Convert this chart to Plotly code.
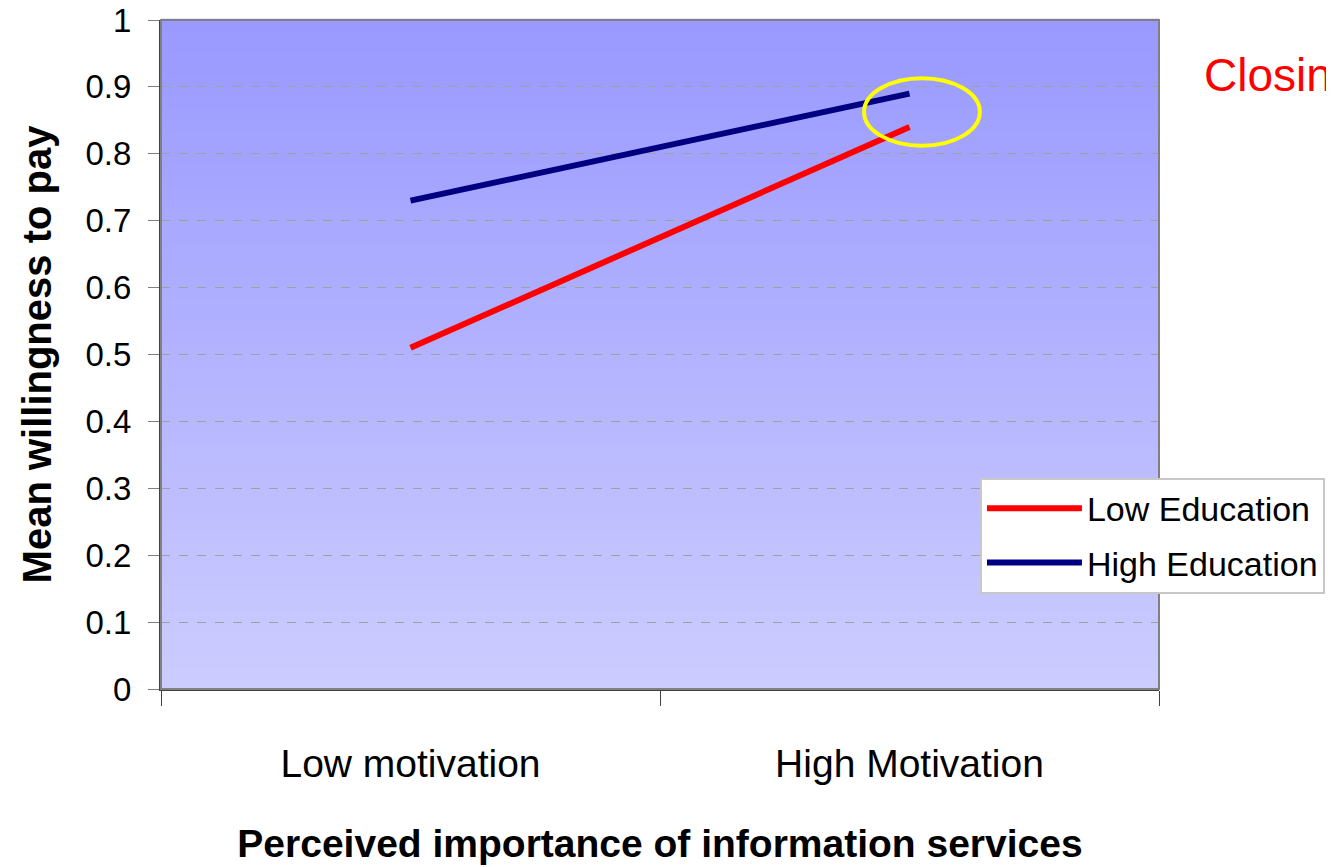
import plotly.graph_objects as go

categories = ["Low motivation", "High Motivation"]
low_education = [0.51, 0.84]
high_education = [0.73, 0.89]
y_ticks = [0, 0.1, 0.2, 0.3, 0.4, 0.5, 0.6, 0.7, 0.8, 0.9, 1]
y_tick_text = ["0", "0.1", "0.2", "0.3", "0.4", "0.5", "0.6", "0.7", "0.8", "0.9", "1"]
series_names = ["Low Education", "High Education"]

ARIAL = "Liberation Sans, Arial, sans-serif"

fig = go.Figure()
fig.add_trace(go.Scatter(x=categories, y=low_education, mode="lines", name=series_names[0],
                         line=dict(color="#FF0000", width=6), legendgroup="a"))
fig.add_trace(go.Scatter(x=categories, y=high_education, mode="lines", name=series_names[1],
                         line=dict(color="#000080", width=6), legendgroup="b"))

# gradient background strips
top = (153, 153, 255)
bot = (204, 204, 255)
n = 60
shapes = []
for i in range(n):
    t = i / (n - 1)
    c = tuple(round(bot[k] + (top[k] - bot[k]) * t) for k in range(3))
    shapes.append(dict(type="rect", xref="x domain", yref="y domain",
                       x0=0, x1=1, y0=i / n, y1=(i + 1) / n + 0.002,
                       fillcolor="rgb(%d,%d,%d)" % c, line=dict(width=0), layer="below"))
# plot border
shapes.append(dict(type="rect", xref="x domain", yref="y domain", x0=0, x1=1, y0=0, y1=1,
                   line=dict(color="#808080", width=2), layer="above"))
# highlight ellipse
shapes.append(dict(type="circle", xref="x", yref="y", x0=0.909, x1=1.141, y0=0.812, y1=0.913,
                   line=dict(color="#FFFF00", width=4)))

fig.update_layout(
    width=1326, height=859,
    margin=dict(l=153, r=175, t=12, b=178, autoexpand=False),
    paper_bgcolor="white", plot_bgcolor="rgba(0,0,0,0)",
    shapes=shapes,
    showlegend=True,
    legend=dict(x=0.8206, y=0.316, xanchor="left", yanchor="top",
                bgcolor="white", bordercolor="#C8C8C8", borderwidth=2,
                font=dict(family=ARIAL, size=34, color="black"),
                tracegroupgap=7, itemwidth=95),
    xaxis=dict(type="category", range=[-0.5, 1.5], tickson="boundaries", ticks="outside",
               ticklen=15, tickcolor="#404040", tickwidth=1, showgrid=False,
               showline=True, linecolor="#404040", linewidth=2, automargin=False,
               ticklabelstandoff=39,
               tickfont=dict(family=ARIAL, size=39, color="black"),
               title=dict(text="<b>Perceived importance of information services</b>",
                          font=dict(family=ARIAL, size=39, color="black"), standoff=46)),
    yaxis=dict(range=[0, 1], tickvals=y_ticks, ticktext=y_tick_text,
               ticks="outside", ticklen=11, tickcolor="#808080", automargin=False,
               ticklabelstandoff=10, ticklabeloverflow="allow",
               showline=True, linecolor="#404040", linewidth=2,
               showgrid=True, gridcolor="#A0A0A0", griddash="dash", gridwidth=1,
               zeroline=False,
               tickfont=dict(family=ARIAL, size=33, color="black"),
               title=dict(text="<b>Mean willingness to pay</b>",
                          font=dict(family=ARIAL, size=40, color="black"), standoff=22)),
    annotations=[dict(text="Closin", xref="paper", yref="paper", x=(1203 - 161) / 998, y=(689 - 75) / 669,
                      xanchor="left", yanchor="middle", showarrow=False, borderpad=0,
                      font=dict(family=ARIAL, size=46, color="#FF0000"))],
)

fig.write_html("out.html")
